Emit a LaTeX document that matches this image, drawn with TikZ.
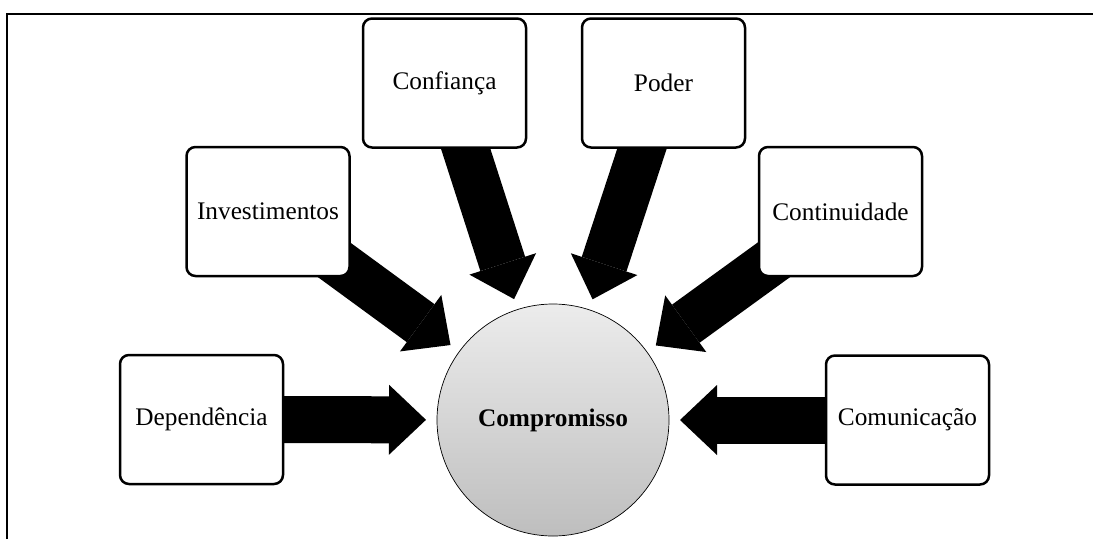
\documentclass[tikz,border=0pt]{standalone}
\usepackage{fontspec}
\setmainfont{Liberation Serif}
\usetikzlibrary{calc,arrows.meta,backgrounds}
\begin{document}
\begin{tikzpicture}[x=1pt,y=-1pt,
  factor/.style={draw=black, line width=2.5pt, rounded corners=9pt, fill=white,
    minimum width=163pt, minimum height=129pt, inner sep=0pt,
    font=\fontsize{25.3}{30}\selectfont},
  hub/.style={circle, draw=black, line width=0.7pt, minimum size=232pt, inner sep=0pt,
    top color={rgb,255:red,236;green,236;blue,236},
    bottom color={rgb,255:red,190;green,190;blue,190},
    font=\fontsize{25.3}{30}\selectfont\bfseries},
  fat/.style={line width=47pt, draw=black,
    -{Triangle[width=70pt,length=37pt,line width=0pt]}}]
  \useasboundingbox (0,0) rectangle (1093,539);

  % open frame: top and left rules
  \draw[line width=2pt] (7,539) -- (7,14) -- (1093,14);

  % central concept
  \node[hub] (cc) at (553,420) {Compromisso};

  % surrounding factors
  \node[factor] (dep)  at (201.5,419.5) {Dependência};
  \node[factor] (inv)  at (268,211.5)   {Investimentos};
  \node[factor] (conf) at (444.5,83)    {Confiança};
  \node[factor] (pod)  at (663.5,83)    {Poder};
  \node[factor] (cont) at (840.5,211.5) {Continuidade};
  \node[factor] (com)  at (907.5,420)   {Comunicação};

  % block arrows from each factor towards the centre
  \begin{pgfonlayer}{background}
    \foreach \f in {dep,inv,conf,pod,cont,com}
      \draw[fat] (\f.center) -- ($(cc)!127pt!(\f)$);
  \end{pgfonlayer}
\end{tikzpicture}
\end{document}
